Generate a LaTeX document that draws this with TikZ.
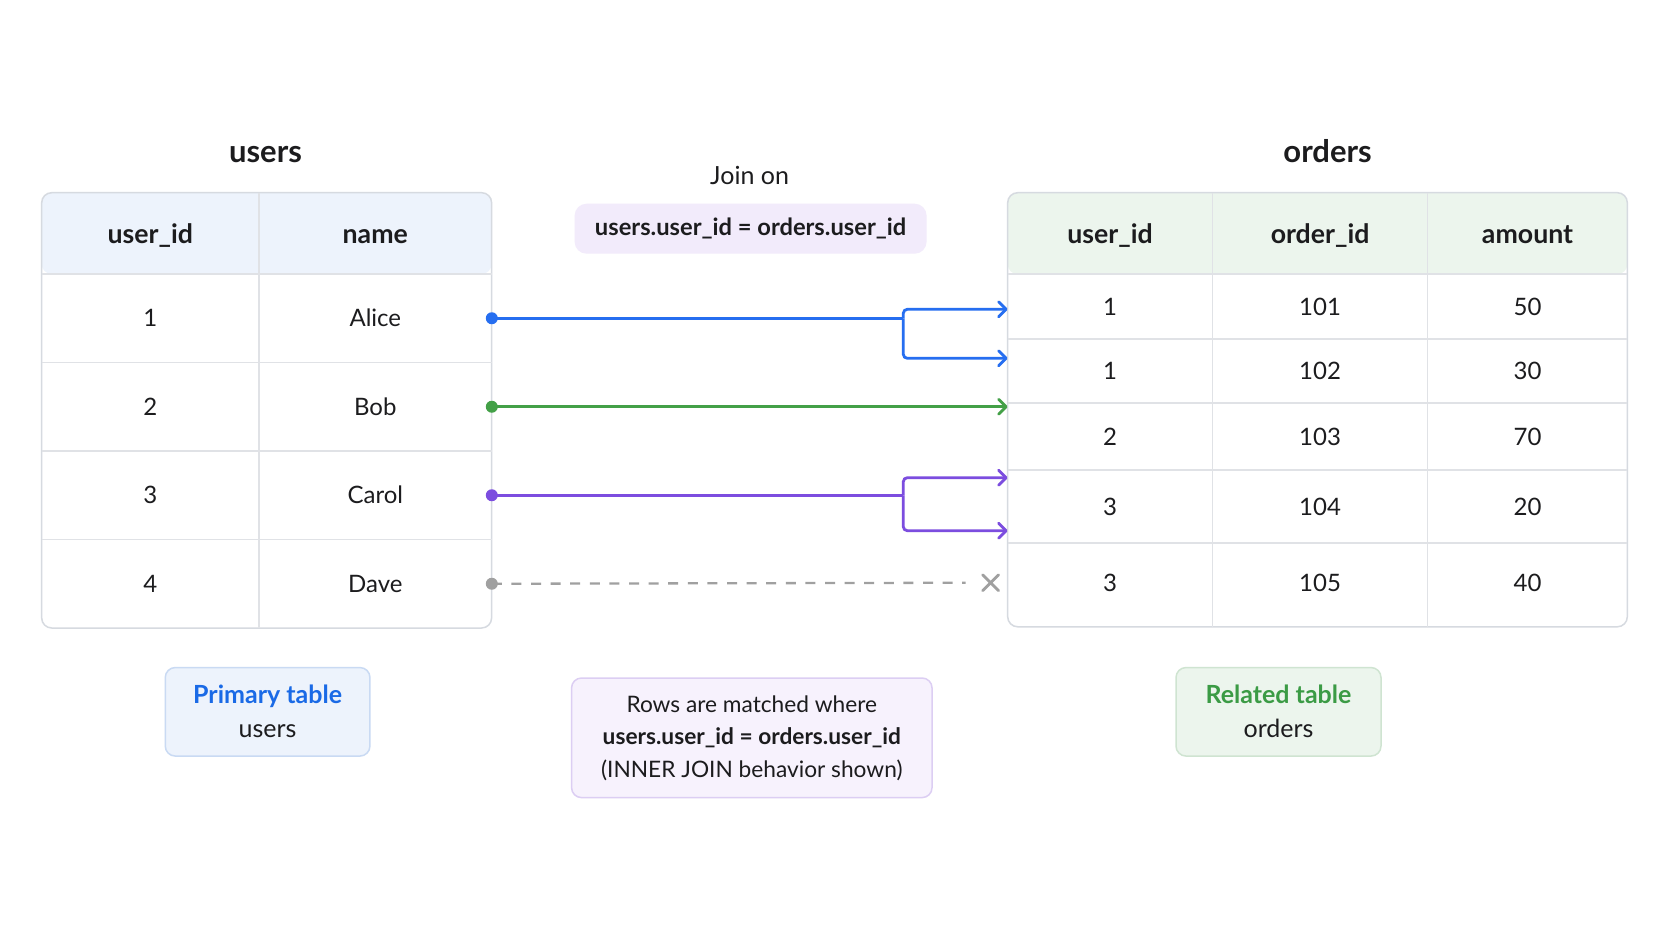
\documentclass[tikz,border=0pt]{standalone}
\usepackage{fontspec}
\setmainfont{Lato}
\usetikzlibrary{arrows.meta,calc,shapes.misc}
\definecolor{inkdark}{RGB}{28,28,30}
\definecolor{gridgray}{RGB}{224,226,230}
\definecolor{framegray}{RGB}{214,218,224}
\definecolor{headblue}{RGB}{237,243,252}
\definecolor{headgreen}{RGB}{236,245,237}
\definecolor{linkblue}{RGB}{38,110,240}
\definecolor{linkgreen}{RGB}{67,160,71}
\definecolor{linkpurple}{RGB}{124,77,223}
\definecolor{linkgray}{RGB}{160,160,160}
\definecolor{pillviolet}{RGB}{242,235,251}
\definecolor{noteviolet}{RGB}{247,242,253}
\definecolor{noteborderviolet}{RGB}{220,206,243}
\definecolor{noteborderblue}{RGB}{201,218,243}
\definecolor{noteedgegreen}{RGB}{207,228,209}
\definecolor{textblue}{RGB}{26,106,230}
\definecolor{textgreen}{RGB}{59,155,69}

\begin{document}
\begin{tikzpicture}[x=1pt, y=-1pt,
  tableframe/.style={draw=framegray, line width=1.5pt, rounded corners=10pt, inner sep=0pt},
  gridline/.style={draw=gridgray, line width=1.5pt},
  tabletitle/.style={inner sep=0pt, text height=22pt, text depth=0pt, font=\fontsize{31}{36}\selectfont\bfseries, text=inkdark},
  headcell/.style={inner sep=0pt, text height=19.5pt, text depth=0pt, font=\fontsize{26.7}{30}\selectfont\bfseries, text=inkdark},
  datacell/.style={inner sep=0pt, text height=17pt, text depth=0pt, font=\fontsize{24}{28}\selectfont, text=inkdark},
  dotnode/.style={circle, inner sep=0pt, minimum size=12pt},
  link/.style={line width=2.8pt, rounded corners=4pt},
  linkarrow/.style={link, -{Straight Barb[length=7.5pt, width=15pt, round]}},
  notebox/.style={rounded corners=10pt, line width=1.5pt, align=center, text=inkdark}]

  \useasboundingbox (0,0) rectangle (1672,941);
  \fill[white] (0,0) rectangle (1672,941);

  % users table
  \node[tabletitle] (title-users) at (265.5,151.7) {users};
  \node[tableframe, minimum width=449.9pt, minimum height=435.3pt,
    path picture={\fill[headblue] (path picture bounding box.north west) rectangle ([yshift=-81.3pt]path picture bounding box.north east);}]
    (users-box) at (266.65,410.35) {};
  \draw[gridline] (259,192.7) -- (259,628);
  \foreach \gy in {274,362.5,451,539.5}
    \draw[gridline] (41.7,\gy) -- (491.6,\gy);
  \node[headcell] (u-head-id) at (150.3,233.5) {user\_id};
  \node[headcell] (u-head-name) at (375.3,233.5) {name};
  \foreach \uid/\uname [count=\r] in {1/Alice,2/Bob,3/Carol,4/Dave} {
    \node[datacell, minimum width=217.4pt, minimum height=88.5pt] (u-id-\r) at (150.3,{229.75+88.5*\r}) {\uid};
    \node[datacell, minimum width=232.6pt, minimum height=88.5pt] (u-name-\r) at (375.3,{229.75+88.5*\r}) {\uname};
  }

  % orders table
  \node[tabletitle] (title-orders) at (1327.6,151.7) {orders};
  \node[tableframe, minimum width=619.6pt, minimum height=434.1pt,
    path picture={\fill[headgreen] (path picture bounding box.north west) rectangle ([yshift=-81.5pt]path picture bounding box.north east);}]
    (orders-box) at (1317.5,409.75) {};
  \foreach \gx in {1212.4,1427.7}
    \draw[gridline] (\gx,192.7) -- (\gx,626.8);
  \foreach \gy in {274.2,338.8,402.8,470.2,542.8}
    \draw[gridline] (1007.7,\gy) -- (1627.3,\gy);
  \node[headcell] (o-head-uid) at (1110.05,233.5) {user\_id};
  \node[headcell] (o-head-oid) at (1320.1,233.5) {order\_id};
  \node[headcell] (o-head-amt) at (1527.5,233.5) {amount};
  \foreach \ouid/\oid/\oamt/\oy/\oh [count=\r] in {1/101/50/306.5/64.6, 1/102/30/370.8/64, 2/103/70/436.5/67.4, 3/104/20/506.5/72.6, 3/105/40/583/84} {
    \node[datacell, minimum width=204.7pt, minimum height=\oh pt] (o-uid-\r) at (1110.05,\oy) {\ouid};
    \node[datacell, minimum width=215.3pt, minimum height=\oh pt] (o-oid-\r) at (1320.1,\oy) {\oid};
    \node[datacell, minimum width=199.6pt, minimum height=\oh pt] (o-amt-\r) at (1527.5,\oy) {\oamt};
  }

  % join condition
  \node[font=\fontsize{25}{28}\selectfont, text=inkdark] (join-label) at (749.6,175.5) {Join on};
  \node[fill=pillviolet, rounded corners=12pt, minimum width=352pt, minimum height=50pt, font=\fontsize{23.7}{26}\selectfont\bfseries, text=inkdark] (join-pill) at (750.6,228.7) {users.user\_id = orders.user\_id};

  % links
  \coordinate (fork-x) at (903.3,0);
  \node[dotnode, fill=linkblue] (dot-alice) at (u-name-1.east) {};
  \node[dotnode, fill=linkgreen] (dot-bob) at (u-name-2.east) {};
  \node[dotnode, fill=linkpurple] (dot-carol) at (u-name-3.east) {};
  \node[dotnode, fill=linkgray] (dot-dave) at (u-name-4.east) {};

  \draw[link, linkblue] (dot-alice.center) -- (fork-x |- dot-alice);
  \draw[linkarrow, linkblue] (fork-x |- dot-alice) |- ($(o-uid-1.west)+(0,2.8)$);
  \draw[linkarrow, linkblue] (fork-x |- dot-alice) |- ($(o-uid-2.west)+(0,-12.5)$);

  \draw[linkarrow, linkgreen] (dot-bob.center) -- (o-uid-1.west |- dot-bob);

  \draw[link, linkpurple] (dot-carol.center) -- (fork-x |- dot-carol);
  \draw[linkarrow, linkpurple] (fork-x |- dot-carol) |- ($(o-uid-4.west)+(0,-28.8)$);
  \draw[linkarrow, linkpurple] (fork-x |- dot-carol) |- ($(o-uid-4.west)+(0,24.2)$);

  \node[cross out, draw=linkgray, line width=2.8pt, line cap=round, minimum size=13pt, inner sep=0pt] (no-match) at (990.6,582.7) {};
  \draw[linkgray, line width=2.3pt, dash pattern=on 10pt off 9.6pt, shorten >=17pt] (dot-dave.center) -- (no-match);

  % notes
  \node[notebox, draw=noteborderblue, fill=headblue, minimum width=204.7pt, minimum height=88.5pt, font=\fontsize{25}{34}\selectfont] (note-primary) at (267.6,711.8) {\textcolor{textblue}{\bfseries Primary table}\\users};
  \node[notebox, draw=noteborderviolet, fill=noteviolet, minimum width=360.5pt, minimum height=119.6pt, font=\fontsize{22.7}{32.5}\selectfont] (note-match) at (751.8,737.8) {Rows are matched where\\\textbf{users.user\_id = orders.user\_id}\\(INNER JOIN behavior shown)};
  \node[notebox, draw=noteedgegreen, fill=headgreen, minimum width=205pt, minimum height=88.5pt, font=\fontsize{25}{34}\selectfont] (note-related) at (1278.5,711.8) {\textcolor{textgreen}{\bfseries Related table}\\orders};
\end{tikzpicture}
\end{document}
